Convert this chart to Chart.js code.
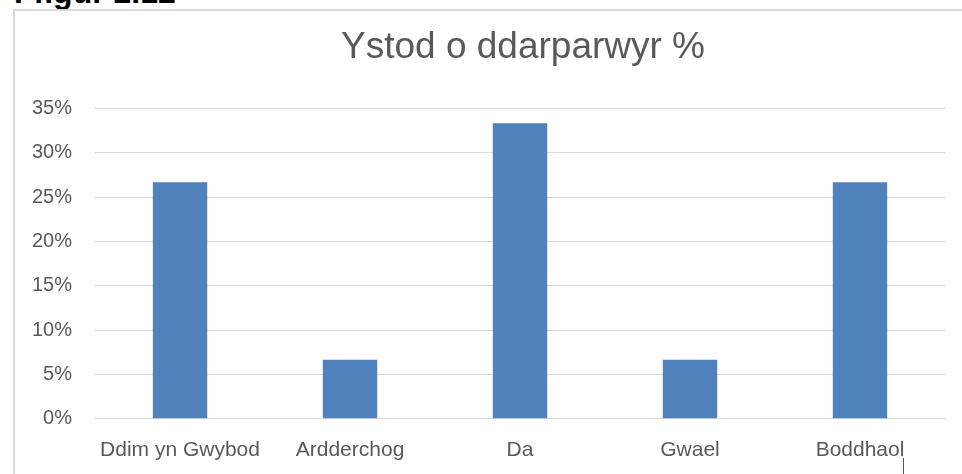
<!DOCTYPE html>
<html lang="cy">
<head>
    <meta charset="UTF-8">
    <title>Ystod o ddarparwyr %</title>
    <script src="https://cdn.jsdelivr.net/npm/chart.js"></script>
    <style>
        body {
            margin: 0;
            padding: 0;
            background: #ffffff;
            width: 962px;
            height: 474px;
            overflow: hidden;
            position: relative;
            font-family: "Liberation Sans", Arial, sans-serif;
        }
        .caption {
            position: absolute;
            left: 14px;
            top: -26px;
            font-weight: bold;
            font-size: 32px;
            color: #000;
        }
        .frame {
            position: absolute;
            left: 13px;
            top: 9px;
            width: 980px;
            height: 500px;
            border: 2px solid #d9d9d9;
        }
        .tick-mark {
            position: absolute;
            left: 903px;
            top: 458px;
            width: 1px;
            height: 16px;
            background: #595959;
        }
        /* canvas runs past the right edge so the title centres over the plot */
        .chart-box {
            position: absolute;
            left: 9px;
            top: 11px;
            width: 1028px;
            height: 463px;
        }
    </style>
</head>
<body>
    <div class="caption">Ffigur 2.12</div>
    <div class="frame"></div>
    <div class="chart-box">
        <canvas id="rangeChart"></canvas>
    </div>
    <div class="tick-mark"></div>

    <script>
        const categories = ['Ddim yn Gwybod', 'Ardderchog', 'Da', 'Gwael', 'Boddhaol'];
        const shares = [0.2667, 0.0667, 0.3333, 0.0667, 0.2667];
        const tickMax = 0.35;
        const tickStep = 0.05;

        const ctx = document.getElementById('rangeChart').getContext('2d');
        new Chart(ctx, {
            type: 'bar',
            data: {
                labels: categories,
                datasets: [{
                    label: 'Ystod o ddarparwyr %',
                    data: shares,
                    backgroundColor: '#4f81bd',
                    barPercentage: 0.32,
                    categoryPercentage: 1.0
                }]
            },
            options: {
                responsive: true,
                maintainAspectRatio: false,
                animation: false,
                layout: {
                    padding: { left: 0, right: 0, top: 0, bottom: 0 }
                },
                plugins: {
                    legend: { display: false },
                    tooltip: { enabled: false },
                    title: {
                        display: true,
                        text: 'Ystod o ddarparwyr %',
                        color: '#595959',
                        font: { family: 'Liberation Sans', size: 37, weight: 'normal' },
                        padding: { top: 15, bottom: 38 }
                    }
                },
                scales: {
                    x: {
                        grid: { display: false },
                        border: { color: '#d9d9d9', width: 1 },
                        ticks: {
                            color: '#595959',
                            font: { family: 'Liberation Sans', size: 21 },
                            padding: 11
                        }
                    },
                    y: {
                        min: 0,
                        max: tickMax,
                        grid: { color: '#d9d9d9', drawTicks: false },
                        border: { display: false },
                        ticks: {
                            stepSize: tickStep,
                            color: '#595959',
                            font: { family: 'Liberation Sans', size: 20 },
                            padding: 23,
                            callback: v => Math.round(v * 100) + '%'
                        }
                    },
                    // empty spacer on the right, off-page
                    spacer: {
                        type: 'linear',
                        position: 'right',
                        grid: { display: false },
                        border: { display: false },
                        ticks: { display: false },
                        afterFit: scale => { scale.width = 92; }
                    }
                }
            }
        });
    </script>
</body>
</html>
